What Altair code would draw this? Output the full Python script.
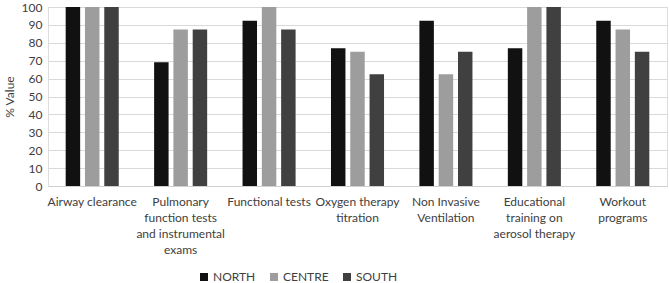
import altair as alt
import pandas as pd

categories = [
    "Airway clearance",
    "Pulmonary|function tests|and instrumental|exams",
    "Functional tests",
    "Oxygen therapy|titration",
    "Non Invasive|Ventilation",
    "Educational|training on|aerosol therapy",
    "Workout|programs",
]
regions = ["NORTH", "CENTRE", "SOUTH"]
north = [100, 69.2, 92.3, 76.9, 92.3, 76.9, 92.3]
centre = [100, 87.5, 100, 75, 62.5, 100, 87.5]
south = [100, 87.5, 87.5, 62.5, 75, 100, 75]
colors = ["#111111", "#9d9d9d", "#404040"]
y_ticks = list(range(0, 101, 10))

rows = []
for series_name, vals in zip(regions, [north, centre, south]):
    for c, v in zip(categories, vals):
        rows.append({"Category": c, "Region": series_name, "Value": v})
df = pd.DataFrame(rows)

FONT = "Liberation Sans Narrow, Lato, sans-serif"

chart = alt.Chart(df).mark_bar().encode(
    x=alt.X("Category:N", sort=categories, title=None,
            scale=alt.Scale(paddingInner=0.4, paddingOuter=0.2),
            axis=alt.Axis(labelAngle=0, labelExpr="split(datum.label, '|')",
                          ticks=False, domainColor="#d0d0d0", labelPadding=10,
                          labelFontSize=12, labelColor="#404040", labelLineHeight=16,
                          labelBaseline="top")),
    xOffset=alt.XOffset("Region:N", sort=regions,
                        scale=alt.Scale(paddingInner=0.25)),
    y=alt.Y("Value:Q", title="% Value",
            scale=alt.Scale(domain=[0, 100], nice=False),
            axis=alt.Axis(values=y_ticks, ticks=False, domain=False,
                          gridColor="#d9d9d9", labelFontSize=12, labelColor="#404040",
                          titleFontSize=12, titleColor="#404040", titleFontWeight="normal",
                          labelPadding=6, titlePadding=5)),
    color=alt.Color("Region:N", sort=regions,
                    scale=alt.Scale(domain=regions, range=colors),
                    legend=alt.Legend(title=None, orient="none", direction="horizontal",
                                      legendX=150, legendY=264, symbolType="square",
                                      symbolSize=64, labelFontSize=12, labelColor="#404040",
                                      columnPadding=12, labelOffset=3,
                                      symbolStrokeWidth=0)),
).properties(
    width=619, height=179,
    autosize="none",
    padding={"left": 48, "top": 7, "right": 2, "bottom": 97},
).configure_view(stroke=None).configure(font=FONT)

chart.save("out.html", embed_options={"renderer": "svg", "actions": False})
